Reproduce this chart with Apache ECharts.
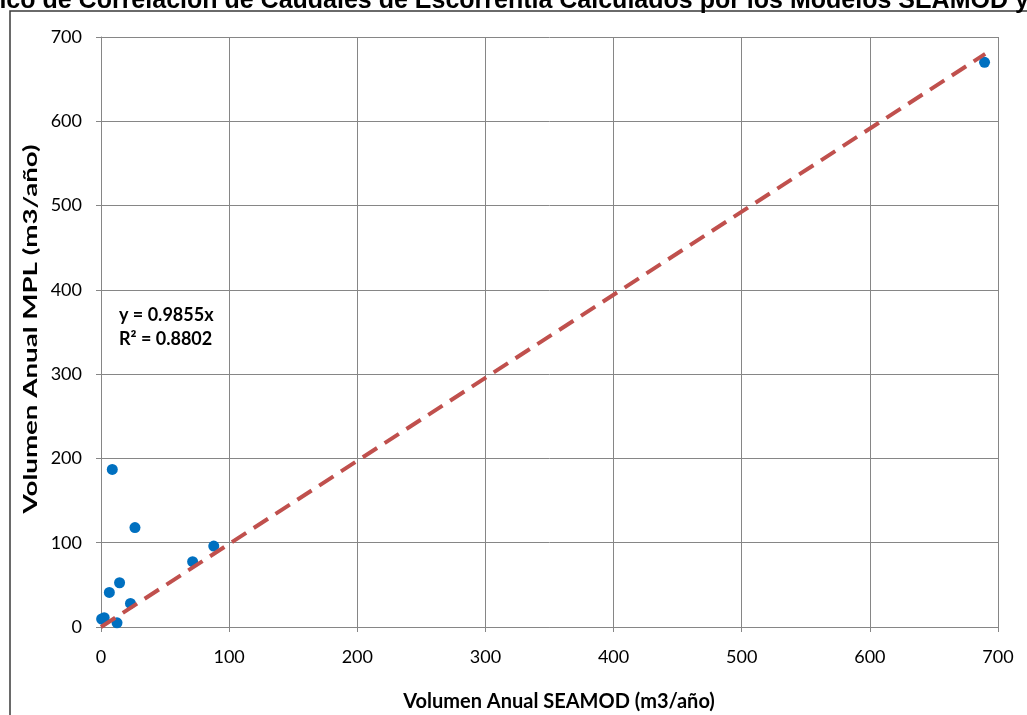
<!DOCTYPE html>
<html>
<head>
<meta charset="utf-8">
<script src="https://cdn.jsdelivr.net/npm/echarts@6/dist/echarts.min.js"></script>
<style>html,body{margin:0;padding:0;background:#fff;}#c{width:1027px;height:715px;}</style>
</head>
<body>
<div id="c"></div>
<script>
const titleText = 'Gráfico de Correlación de Caudales de Escorrentía Calculados por los Modelos SEAMOD y MPL';
const xName = 'Volumen Anual SEAMOD (m3/año)';
const yName = 'Volumen Anual MPL (m3/año)';
const seamod = [0.5, 2.5, 12.5, 6.5, 14.5, 23, 26.5, 8.8, 71.5, 88, 689.5];
const mpl = [9.5, 11, 5, 41, 52.5, 28, 118, 187, 77.5, 96, 670];
const trendX = [0, 690];
const trendY = [0, 680];
const equationText = 'y = 0.9855x';
const r2Text = 'R² = 0.8802';
const axisMin = 0, axisMax = 700, axisStep = 100;

const chart = echarts.init(document.getElementById('c'));
const font = 'Lato, "Open Sans", sans-serif';
chart.setOption({
  animation: false,
  backgroundColor: '#fff',
  grid: { left: 101, right: 29, top: 37, bottom: 88, containLabel: false },
  graphic: [
    { type: 'rect', z: 0, shape: { x: 10, y: 11, width: 1100, height: 800 },
      style: { fill: 'none', stroke: '#3a3a3a', lineWidth: 1.5 } },
    { type: 'text', z: 10, x: -52, y: -11,
      style: { text: titleText, font: 'bold 25px "Liberation Sans", Arial, sans-serif', fill: '#000',
               align: 'left', verticalAlign: 'top' } },
    { type: 'text', z: 10, x: 119, y: 303,
      style: { text: equationText + '\n' + r2Text, font: 'bold 18px ' + font, fill: '#000',
               lineHeight: 24, align: 'left', verticalAlign: 'top' } },
    { type: 'text', z: 10, x: 559, y: 702,
      style: { text: xName, font: 'bold 20px ' + font, fill: '#000',
               align: 'center', verticalAlign: 'middle' } },
    { type: 'text', z: 10, x: 31, y: 329, rotation: Math.PI / 2, scaleX: 1.42,
      style: { text: yName, font: 'bold 19.5px ' + font, fill: '#000',
               align: 'center', verticalAlign: 'middle' } }
  ],
  xAxis: {
    type: 'value', min: axisMin, max: axisMax, interval: axisStep,
    axisLine: { show: true, lineStyle: { color: '#868686', width: 1 } },
    axisTick: { show: true, length: 5, lineStyle: { color: '#868686' } },
    axisLabel: { fontFamily: font, fontSize: 18, color: '#000', margin: 21 },
    splitLine: { show: true, lineStyle: { color: '#868686', width: 1 } }
  },
  yAxis: {
    type: 'value', min: axisMin, max: axisMax, interval: axisStep,
    axisLine: { show: true, lineStyle: { color: '#868686', width: 1 } },
    axisTick: { show: true, length: 5, lineStyle: { color: '#868686' } },
    axisLabel: { fontFamily: font, fontSize: 18, color: '#000', margin: 19 },
    splitLine: { show: true, lineStyle: { color: '#868686', width: 1 } }
  },
  series: [
    {
      type: 'scatter', z: 2,
      data: seamod.map((x, i) => [x, mpl[i]]),
      symbol: 'circle', symbolSize: 11,
      itemStyle: { color: '#0070C0', opacity: 1 }
    },
    {
      type: 'line', z: 3,
      data: trendX.map((x, i) => [x, trendY[i]]),
      symbol: 'none',
      lineStyle: { color: '#C0504D', width: 4, type: [17, 9] }
    }
  ]
});
</script>
</body>
</html>
